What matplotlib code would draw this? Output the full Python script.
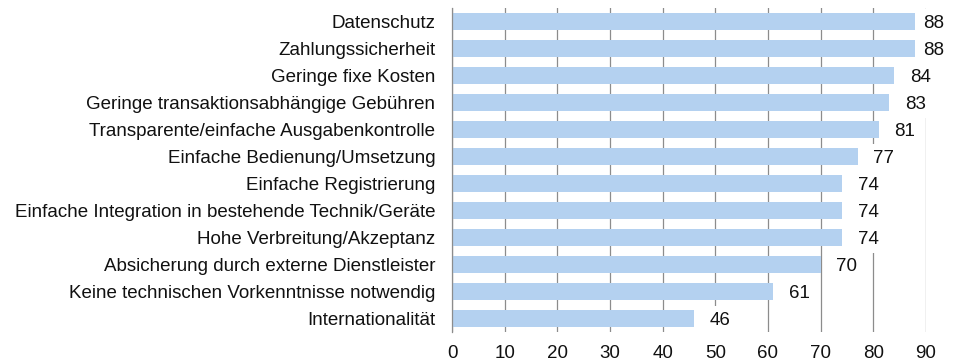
import matplotlib.pyplot as plt

plt.rcParams['font.family'] = ['Liberation Sans', 'DejaVu Sans']

# Bewertung der Kriterien (Anteil in %)
kriterien = [
    'Datenschutz',
    'Zahlungssicherheit',
    'Geringe fixe Kosten',
    'Geringe transaktionsabhängige Gebühren',
    'Transparente/einfache Ausgabenkontrolle',
    'Einfache Bedienung/Umsetzung',
    'Einfache Registrierung',
    'Einfache Integration in bestehende Technik/Geräte',
    'Hohe Verbreitung/Akzeptanz',
    'Absicherung durch externe Dienstleister',
    'Keine technischen Vorkenntnisse notwendig',
    'Internationalität',
]
werte = [88, 88, 84, 83, 81, 77, 74, 74, 74, 70, 61, 46]
xticks = [0, 10, 20, 30, 40, 50, 60, 70, 80, 90]

fig = plt.figure(figsize=(9.58, 3.63), dpi=100)
ax = fig.add_axes([452 / 958, 31 / 363, 474 / 958, 324 / 363])

pos = list(range(len(kriterien)))
ax.barh(pos, werte, height=0.63, color='#b4d1f0', zorder=2)

# Werte rechts neben den Balken, weiss hinterlegt (verdeckt das Gitter)
for p, v in zip(pos, werte):
    ax.text(min(v + 3.0, 89.4), p + 0.06, str(v), va='center', ha='left',
            fontsize=13.5, color='#111111', zorder=1,
            bbox=dict(boxstyle='square,pad=0.28', fc='white', ec='none'))

ax.set_xlim(0, 90)
ax.set_ylim(len(kriterien) - 0.5, -0.5)
ax.set_xticks(xticks)
ax.set_yticks(pos)
ax.set_yticklabels(kriterien)
ax.tick_params(axis='both', length=0, labelsize=13.5, colors='#111111')
ax.tick_params(axis='x', pad=9)
ax.tick_params(axis='y', pad=12)

ax.grid(axis='x', color='#8c8c8c', linewidth=0.9, zorder=0)
ax.set_axisbelow(True)
for s in ['top', 'right', 'bottom']:
    ax.spines[s].set_visible(False)
ax.spines['left'].set_color('#8c8c8c')
ax.spines['left'].set_linewidth(0.9)

fig.savefig('out.png', dpi=100)
